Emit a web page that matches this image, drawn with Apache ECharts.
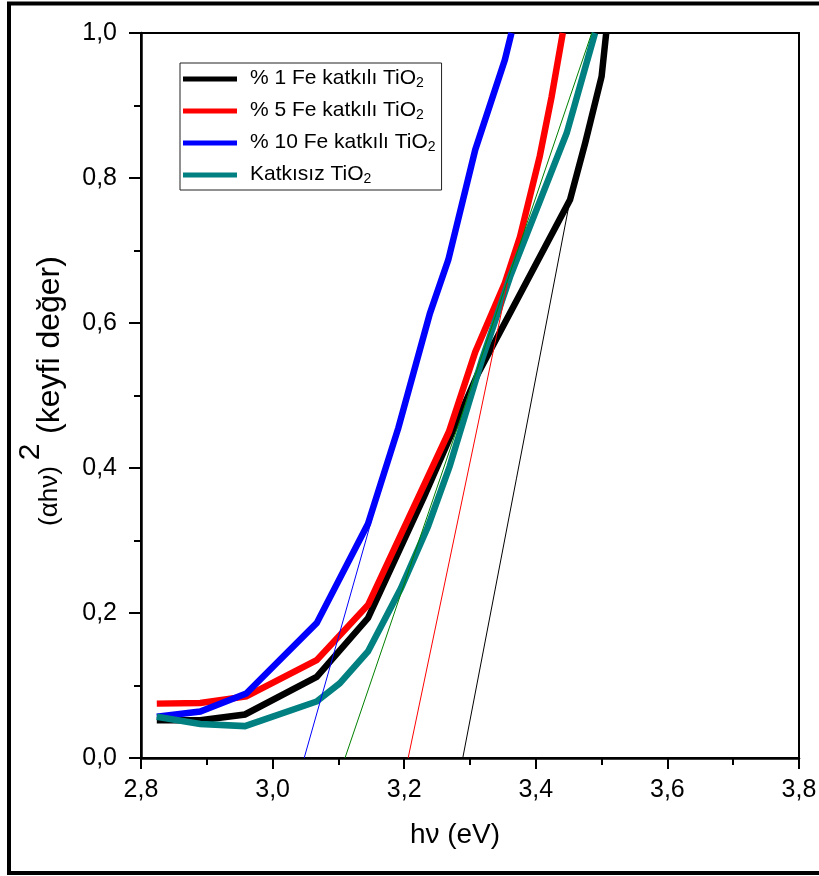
<!DOCTYPE html>
<html><head><meta charset="utf-8">
<script src="https://cdn.jsdelivr.net/npm/echarts@6/dist/echarts.min.js"></script>
<style>html,body{margin:0;padding:0;background:#fff}#c{width:819px;height:876px}</style>
</head><body><div id="c"></div>
<script>
// ---- data (hν in eV, (αhν)^2 in arbitrary units) ----
const xTicks = [2.8, 3.0, 3.2, 3.4, 3.6, 3.8];
const yTicks = [0.0, 0.2, 0.4, 0.6, 0.8, 1.0];
const seriesNames = ['% 1 Fe katkılı TiO2', '% 5 Fe katkılı TiO2', '% 10 Fe katkılı TiO2', 'Katkısız TiO2'];

const fe1X = [2.824, 2.890, 2.958, 3.067, 3.145, 3.230, 3.312, 3.452, 3.475, 3.500, 3.507];
const fe1Y = [0.052, 0.052, 0.060, 0.112, 0.193, 0.360, 0.530, 0.770, 0.848, 0.940, 1.000];

const fe5X = [2.824, 2.890, 2.960, 3.067, 3.145, 3.268, 3.308, 3.353, 3.376, 3.406, 3.424, 3.441];
const fe5Y = [0.075, 0.076, 0.085, 0.135, 0.211, 0.450, 0.560, 0.655, 0.719, 0.830, 0.912, 1.000];

const fe10X = [2.824, 2.890, 2.960, 3.067, 3.145, 3.191, 3.239, 3.267, 3.308, 3.353, 3.363];
const fe10Y = [0.057, 0.064, 0.089, 0.186, 0.323, 0.455, 0.613, 0.687, 0.839, 0.963, 1.000];

const pureX = [2.824, 2.890, 2.958, 3.067, 3.102, 3.145, 3.195, 3.236, 3.269, 3.318, 3.361, 3.447, 3.490];
const pureY = [0.057, 0.047, 0.044, 0.078, 0.103, 0.147, 0.234, 0.319, 0.402, 0.549, 0.664, 0.862, 1.000];

// tangent (Tauc) fit lines: [x0, y0, x1, y1]
const fitFe10 = [3.048, 0.0, 3.151, 0.330];
const fitPure = [3.110, 0.0, 3.485, 1.000];
const fitFe5  = [3.206, 0.0, 3.357, 0.655];
const fitFe1  = [3.289, 0.0, 3.452, 0.770];

// ---- chart ----
const pairs = (xs, ys) => xs.map((x, i) => [x, ys[i]]);
const seg = f => [[f[0], f[1]], [f[2], f[3]]];
const comma = v => v.toFixed(1).replace('.', ',');
const FONT = '"Liberation Sans", Arial, sans-serif';

const chart = echarts.init(document.getElementById('c'), null, {renderer: 'canvas'});

const thick = (name, color, data, z) => ({
  name, type: 'line', data, showSymbol: false, symbol: 'none', z,
  lineStyle: {color, width: 6.5, join: 'miter'}, itemStyle: {color},
  emphasis: {disabled: true}, silent: true
});
const thin = (color, data) => ({
  type: 'line', data, showSymbol: false, symbol: 'none', z: 10,
  lineStyle: {color, width: 1}, itemStyle: {color}, silent: true
});

chart.setOption({
  animation: false,
  backgroundColor: '#fff',
  grid: {left: 141, right: 20, top: 33, bottom: 118, show: true, borderColor: '#000', borderWidth: 2,
         containLabel: false, outerBoundsMode: 'none'},
  xAxis: {
    type: 'value', min: xTicks[0], max: xTicks[xTicks.length - 1], interval: 0.2,
    axisLine: {show: true, onZero: false, lineStyle: {color: '#000', width: 2.5}},
    axisTick: {show: true, length: 11, lineStyle: {color: '#000', width: 2}},
    minorTick: {show: true, splitNumber: 2, length: 7, lineStyle: {color: '#000', width: 2}},
    splitLine: {show: false},
    axisLabel: {margin: 20, color: '#000', fontSize: 25, fontFamily: FONT, formatter: comma,
                showMinLabel: true, showMaxLabel: true}
  },
  yAxis: {
    type: 'value', min: yTicks[0], max: yTicks[yTicks.length - 1], interval: 0.2,
    axisLine: {show: true, onZero: false, lineStyle: {color: '#000', width: 2.5}},
    axisTick: {show: true, length: 12, lineStyle: {color: '#000', width: 2}},
    minorTick: {show: true, splitNumber: 2, length: 7, lineStyle: {color: '#000', width: 2}},
    splitLine: {show: false},
    axisLabel: {margin: 24, color: '#000', fontSize: 25, fontFamily: FONT, formatter: comma}
  },
  legend: {
    data: seriesNames, orient: 'vertical', left: 180, top: 63,
    padding: [1, 6, 4, 3], itemGap: 6, itemWidth: 54, itemHeight: 5, icon: 'rect',
    backgroundColor: '#fff', borderColor: '#222', borderWidth: 1, selectedMode: false,
    formatter: n => '{a|' + n.slice(0, -1) + '}{s|2}',
    textStyle: {
      rich: {
        a: {fontSize: 21, fontFamily: FONT, color: '#000', lineHeight: 22, verticalAlign: 'top', padding: [0, 0, 0, 8]},
        s: {fontSize: 14, fontFamily: FONT, color: '#000', lineHeight: 14, verticalAlign: 'bottom', padding: [12, 0, 0, 0]}
      }
    }
  },
  graphic: [
    {type: 'rect', shape: {x: 9, y: 3.5, width: 840, height: 869.5}, style: {fill: 'none', stroke: '#000', lineWidth: 4}, silent: true, z: 100},
    {type: 'text', x: 455, y: 835, silent: true,
     style: {text: 'hν (eV)', fontSize: 28, fontFamily: FONT, fill: '#000', textAlign: 'center', textVerticalAlign: 'middle'}},
    {type: 'text', x: 50, y: 496, rotation: Math.PI / 2, silent: true,
     style: {text: '(αhν)', fontSize: 26, fontFamily: FONT, fill: '#000', textAlign: 'center', textVerticalAlign: 'middle'}},
    {type: 'text', x: 31, y: 452, rotation: Math.PI / 2, silent: true,
     style: {text: '2', fontSize: 30, fontFamily: FONT, fill: '#000', textAlign: 'center', textVerticalAlign: 'middle'}},
    {type: 'text', x: 50, y: 345, rotation: Math.PI / 2, silent: true,
     style: {text: '(keyfi değer)', fontSize: 32, fontFamily: FONT, fill: '#000', textAlign: 'center', textVerticalAlign: 'middle'}}
  ],
  series: [
    thick(seriesNames[0], '#000000', pairs(fe1X, fe1Y), 3),
    thick(seriesNames[1], '#ff0000', pairs(fe5X, fe5Y), 4),
    thick(seriesNames[2], '#0000ff', pairs(fe10X, fe10Y), 5),
    thick(seriesNames[3], '#008080', pairs(pureX, pureY), 6),
    thin('#0000ff', seg(fitFe10)),
    thin('#008000', seg(fitPure)),
    thin('#ff0000', seg(fitFe5)),
    thin('#000000', seg(fitFe1))
  ]
});
</script>
</body></html>
